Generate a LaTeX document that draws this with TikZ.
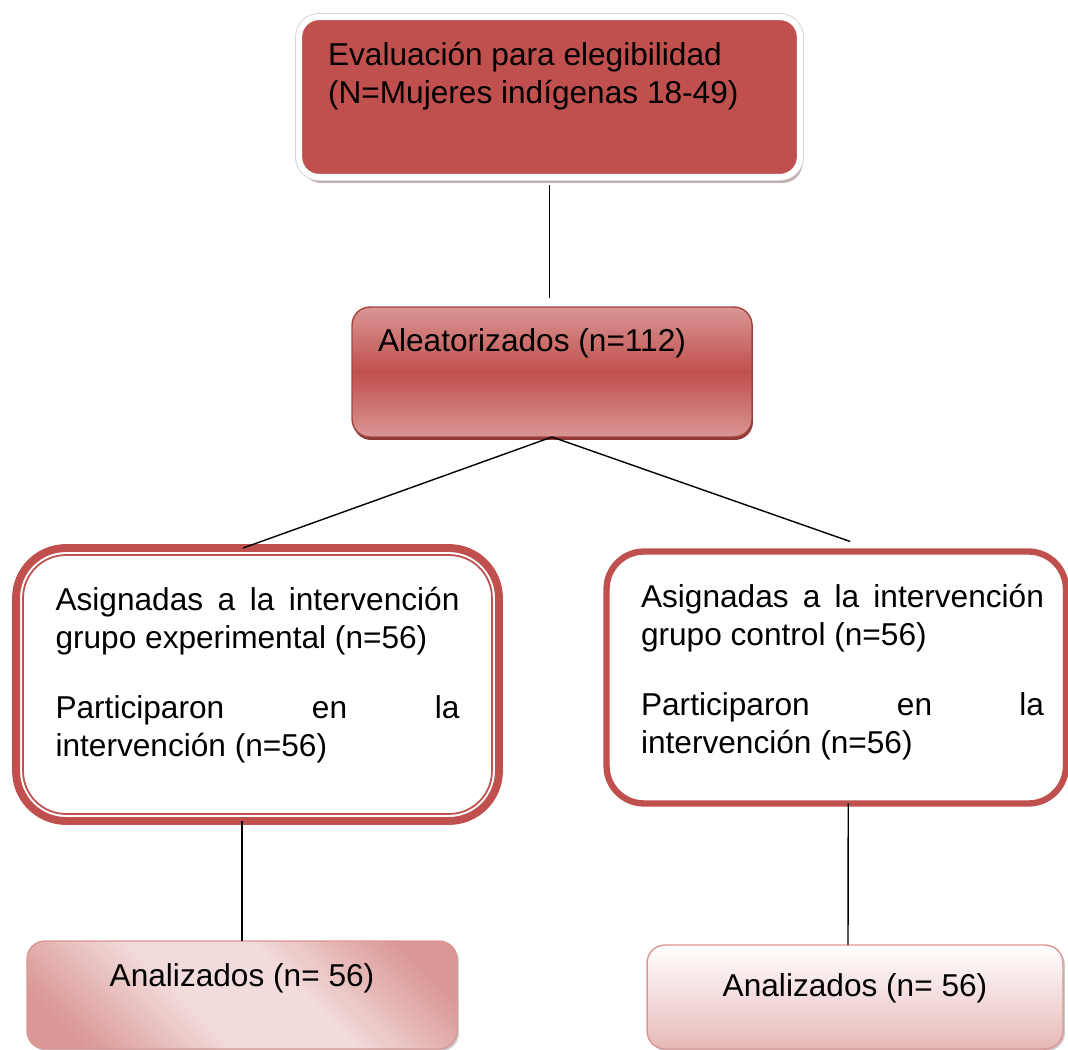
\documentclass[tikz,border=0pt]{standalone}
\usepackage{fontspec}
\setmainfont{Liberation Sans}
\usetikzlibrary{shadows}
\definecolor{boxred}{HTML}{C0504D}
\definecolor{boxpink}{HTML}{D99694}
\definecolor{lightpink}{HTML}{F2DCDB}
\definecolor{rosepink}{HTML}{E6B9B8}
\definecolor{darkred}{HTML}{8E3B38}
\definecolor{shadowgray}{HTML}{C4AFAF}
\pgfdeclarehorizontalshading{diagband}{100bp}{color(0bp)=(boxpink); color(22bp)=(boxpink);
  color(42bp)=(lightpink); color(58bp)=(lightpink); color(78bp)=(boxpink); color(100bp)=(boxpink)}
\newcommand{\boxtext}[3]{\parbox[c][#2][t]{#1}{#3}}

\begin{document}
\begin{tikzpicture}[x=0.02cm, y=-0.02cm,
    box/.style={rectangle, outer sep=0pt, font=\fontsize{18}{21.6}\selectfont},
    evalbox/.style={box, rounded corners=0.4cm, fill=boxred, draw=white, line width=3.5pt,
                    drop shadow={shadow xshift=0.05cm, shadow yshift=-0.12cm, fill=shadowgray, opacity=1},
                    preaction={draw=gray!35, line width=4.5pt},
                    inner xsep=0.58cm, inner ysep=0.5cm},
    aleabox/.style={box, rounded corners=0.36cm, draw=boxred!85!black, line width=0.8pt,
                    top color=boxpink, bottom color=boxpink, middle color=boxred,
                    drop shadow={shadow xshift=0.02cm, shadow yshift=-0.06cm, fill=darkred, opacity=1},
                    inner xsep=0.52cm, inner ysep=0.44cm},
    groupbox/.style={box, fill=white, draw=boxred},
    anabox/.style={box, rounded corners=0.36cm, draw=boxpink, line width=0.8pt,
                   drop shadow={shadow xshift=0.04cm, shadow yshift=-0.04cm, fill=gray!40, opacity=1},
                   inner xsep=0.2cm},
    link/.style={draw=black, line width=0.8pt}
  ]
    \useasboundingbox (0,0) rectangle (1068,1050);

    \node[evalbox] (eval) at (549.5,97) {\boxtext{8.86cm}{2.2cm}{Evaluación para elegibilidad\\(N=Mujeres indígenas 18-49)}};
    \node[aleabox] (alea) at (552,372) {\boxtext{6.96cm}{1.72cm}{Aleatorizados (n=112)}};

    \node[groupbox, line width=4.5pt, rounded corners=1cm, inner xsep=0.79cm, inner ysep=0.78cm] (exp) at (257.5,684.5) {
      \boxtext{8.08cm}{3.9cm}{Asignadas\hfill a\hfill la\hfill intervención\\grupo experimental (n=56)\\[0.64cm]Participaron\hfill en\hfill la\\intervención (n=56)}};
    \draw[boxred, line width=1pt, rounded corners=0.86cm] ([shift={(7,7)}]exp.north west) rectangle ([shift={(-7,-7)}]exp.south east);
    \node[groupbox, line width=3.6pt, rounded corners=0.75cm, inner xsep=0.44cm, inner ysep=0.65cm] (ctl) at (836.25,677.5) {
      \hspace*{0.25cm}\boxtext{8.06cm}{3.74cm}{Asignadas\hfill a\hfill la\hfill intervención\\grupo control (n=56)\\[0.64cm]Participaron\hfill en\hfill la\\intervención (n=56)}};

    \node[anabox, shade, shading=diagband, shading angle=45, inner ysep=0.46cm] (ana1) at (242,995) {\boxtext{8.2cm}{1.24cm}{\centering Analizados (n= 56)}};
    \node[anabox, top color=white, bottom color=rosepink, inner ysep=0.58cm] (ana2) at (855,997) {\boxtext{7.92cm}{0.92cm}{\centering Analizados (n= 56)}};

    \draw[link, shorten <=0.16cm, shorten >=0.18cm] (eval.south) -- (eval.south |- alea.north);
    \draw[link] (alea.south) -- ([shift={(-14.5,0)}]exp.north);
    \draw[link] (alea.south) -- ([shift={(14,-10)}]ctl.north);
    \draw[link] (exp.south -| ana1.north) -- (ana1.north);
    \draw[link] ([shift={(12,0)}]ctl.south) -- ([shift={(-7,0)}]ana2.north);
  \end{tikzpicture}
\end{document}
